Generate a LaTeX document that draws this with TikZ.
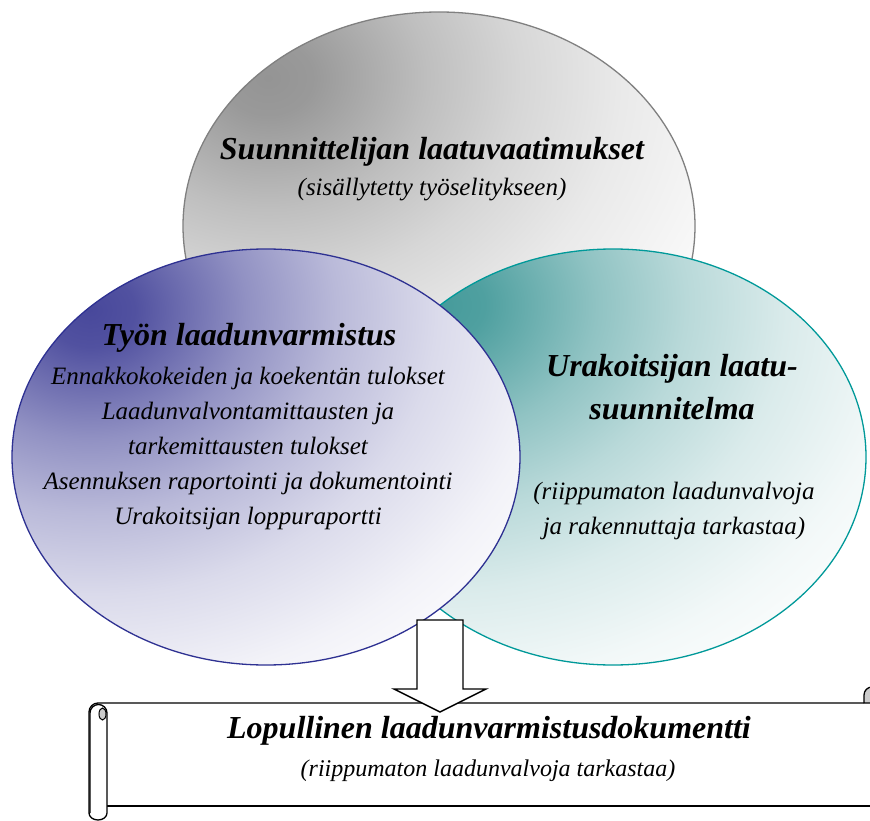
\documentclass[tikz,border=0pt]{standalone}
\usepackage{fontspec}
\setmainfont{Liberation Serif}
\usetikzlibrary{shapes.geometric}
\definecolor{graydark}{RGB}{148,148,148}
\definecolor{grayline}{RGB}{128,128,128}
\definecolor{bluedark}{RGB}{72,72,155}
\definecolor{blueline}{RGB}{46,49,146}
\definecolor{tealdark}{RGB}{70,155,155}
\definecolor{tealline}{RGB}{0,153,153}
\newcommand\declareglow[2]{%
  \pgfdeclareradialshading{#1}{\pgfpoint{0bp}{0bp}}{%
    color(0bp)=(#2); color(2bp)=(#2!95!white); color(7bp)=(#2!60!white);
    color(11bp)=(#2!38!white); color(15.5bp)=(#2!20!white); color(20.5bp)=(#2!7!white);
    color(25bp)=(white); color(50bp)=(white)}}
\declareglow{grayglow}{graydark}
\declareglow{blueglow}{bluedark}
\declareglow{tealglow}{tealdark}
\newcommand\ttlfont{\fontsize{32}{43}\selectfont\bfseries\itshape}
\newcommand\txtfont{\fontsize{25}{35}\selectfont\itshape}
\newcommand\scrsubfont{\fontsize{24}{33}\selectfont\itshape}
\begin{document}
\begin{tikzpicture}[x=1pt,y=-1pt,
  oval/.style={ellipse, inner sep=0pt, line width=1.3pt},
  ttl/.style={align=center, inner sep=0pt, font=\ttlfont},
  txt/.style={align=center, inner sep=0pt, font=\txtfont},
  scr/.style={line width=1.3pt, line join=round}]
\useasboundingbox (0,0) rectangle (870,821);
\clip (0,0) rectangle (870,821);
\fill[white] (0,0) rectangle (870,821);
% top ellipse
\begin{scope}
  \clip (439,226) ellipse[x radius=256pt, y radius=214pt];
  \shade[shading=grayglow] (268,78) ellipse[x radius=570pt, y radius=470pt];
\end{scope}
\node[oval, draw=grayline, minimum width=512pt, minimum height=428pt] (req) at (439,226) {};
% right ellipse
\begin{scope}
  \clip (613,457) ellipse[x radius=253pt, y radius=208pt];
  \fill[white] (613,457) ellipse[x radius=253pt, y radius=208pt];
  \shade[shading=tealglow] (440,305) ellipse[x radius=560pt, y radius=460pt];
\end{scope}
\node[oval, draw=tealline, minimum width=506pt, minimum height=416pt] (plan) at (613,457) {};
% left ellipse
\begin{scope}
  \clip (266,457) ellipse[x radius=254pt, y radius=208pt];
  \fill[white] (266,457) ellipse[x radius=254pt, y radius=208pt];
  \shade[shading=blueglow] (90,310) ellipse[x radius=560pt, y radius=460pt];
\end{scope}
\node[oval, draw=blueline, minimum width=508pt, minimum height=416pt] (work) at (266,457) {};
% scroll
\fill[white] (98,703) rectangle (880,806);
\draw[scr] (107,806) -- (880,806);
\draw[scr] (89,813) -- (89,712) arc[start angle=180, end angle=270, radius=9] -- (864,703);
\draw[scr, fill=white] (89,813) arc[start angle=180, end angle=0, x radius=9, y radius=7] -- (107,713) arc[start angle=0, end angle=-180, radius=8.5] -- (90,813);
\draw[scr, fill=gray!40] (864,703) -- (864,695) arc[start angle=180, end angle=270, radius=8] -- (880,687) -- (880,703) -- cycle;
\draw[line width=1pt, fill=gray!40] (102.5,714) ellipse[x radius=3.5, y radius=6];
% arrow
\draw[line width=1.4pt, fill=white, line join=miter] (417,620) -- (463,620) -- (463,689) -- (486,689) -- (440,712) -- (394,689) -- (417,689) -- cycle;
% texts
\node[ttl] (reqt) at (432,152) {Suunnittelijan laatuvaatimukset};
\node[txt] (reqs) at (432,190) {(sisällytetty työselitykseen)};
\node[ttl] (workt) at (249,338) {Työn laadunvarmistus};
\node[txt] (works) at (248,448) {Ennakkokokeiden ja koekentän tulokset\\Laadunvalvontamittausten ja\\tarkemittausten tulokset\\Asennuksen raportointi ja dokumentointi\\Urakoitsijan loppuraportti};
\node[ttl] (plant) at (672,387) {Urakoitsijan laatu-\\suunnitelma};
\node[txt] (plans) at (674,511) {(riippumaton laadunvalvoja\\ja rakennuttaja tarkastaa)};
\node[ttl] (fint) at (489,731) {Lopullinen laadunvarmistusdokumentti};
\node[txt, font=\scrsubfont] (fins) at (488,771) {(riippumaton laadunvalvoja tarkastaa)};
\end{tikzpicture}
\end{document}
